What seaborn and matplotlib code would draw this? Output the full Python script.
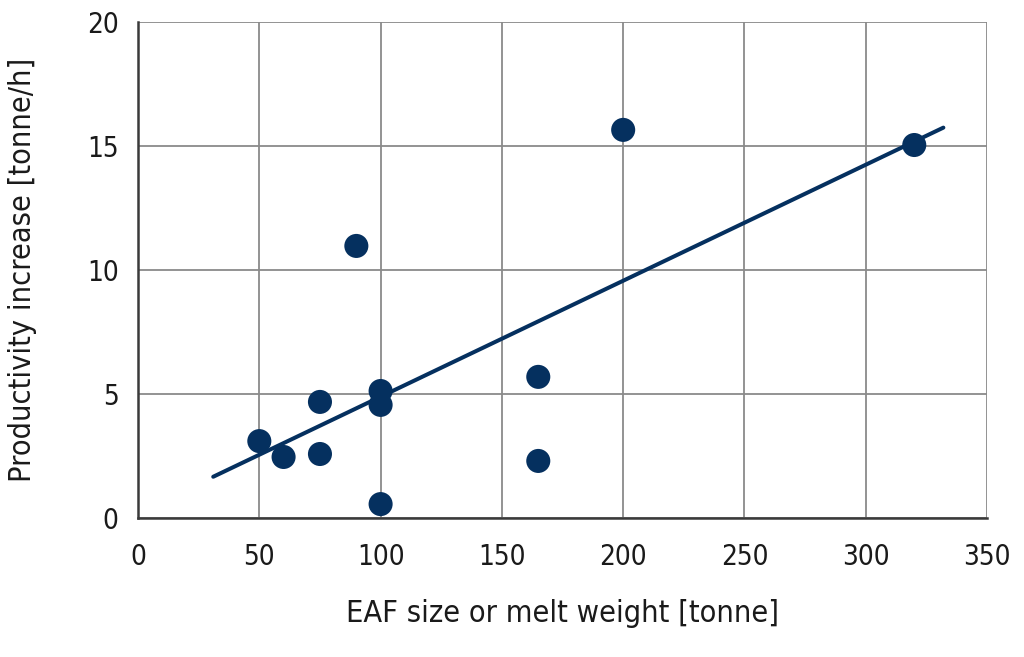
import numpy as np
import pandas as pd
import matplotlib
matplotlib.use("Agg")
import matplotlib.pyplot as plt
import seaborn as sns

# EAF size / melt weight [tonne] and productivity increase [tonne/h]
eaf_size = [50, 60, 75, 75, 90, 100, 100, 100, 165, 165, 200, 320]
productivity = [3.1, 2.46, 4.68, 2.58, 10.97, 5.12, 4.56, 0.56, 5.69, 2.3, 15.65, 15.04]

# range over which the fitted trend line is drawn
fit_range = [31, 332]

x_ticks = [0, 50, 100, 150, 200, 250, 300, 350]
y_ticks = [0, 5, 10, 15, 20]

navy = "#05305f"

sns.set_style("white")
plt.rcParams['font.family'] = ['Liberation Sans Narrow', 'DejaVu Sans']
plt.rcParams['font.stretch'] = 'condensed'

df = pd.DataFrame({'size': eaf_size, 'prod': productivity})

# least squares fit
slope, intercept = np.polyfit(df['size'], df['prod'], 1)
line_df = pd.DataFrame({'size': fit_range})
line_df['prod'] = intercept + slope * line_df['size']

fig = plt.figure(figsize=(10.24, 6.57), dpi=100)
ax = fig.add_axes([0.1348, 0.2116, 0.8291, 0.7549])

sns.lineplot(data=line_df, x='size', y='prod', color=navy, linewidth=2.9, ax=ax, zorder=3)
sns.scatterplot(data=df, x='size', y='prod', color=navy, s=300, edgecolor='none', ax=ax, zorder=4)

ax.set_xlim(0, 350)
ax.set_ylim(0, 20)
ax.set_xticks(x_ticks)
ax.set_yticks(y_ticks)
ax.grid(True, color='#8a8a8a', linewidth=1.3)
ax.set_axisbelow(True)

for side in ['top', 'right']:
    ax.spines[side].set_visible(False)
for side in ['left', 'bottom']:
    ax.spines[side].set_color('#3a3a3a')
    ax.spines[side].set_linewidth(1.8)

ax.tick_params(axis='both', which='major', length=10, width=1.3, color='#8a8a8a',
               labelsize=20, labelcolor='#1a1a1a', pad=8, direction='out')
ax.tick_params(axis='y', pad=4)

ax.set_xlabel('EAF size or melt weight [tonne]', fontsize=22, color='#1a1a1a', labelpad=20)
ax.set_ylabel('Productivity increase [tonne/h]', fontsize=22, color='#1a1a1a', labelpad=36)

fig.savefig('out.png', dpi=100)
